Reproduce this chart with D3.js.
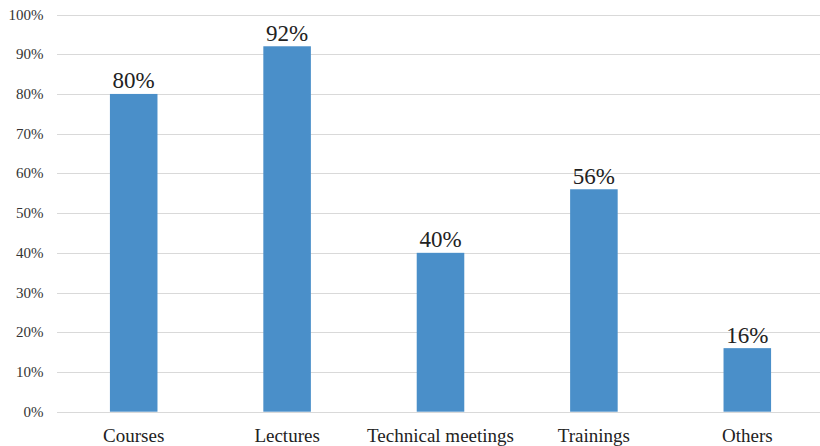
<!DOCTYPE html>
<html><head><meta charset="utf-8">
<script src="https://cdn.jsdelivr.net/npm/d3@7"></script>
<style>body{margin:0;background:#fff}svg{display:block}</style>
</head><body>
<script>
const categories = ["Courses","Lectures","Technical meetings","Trainings","Others"];
const values = [80,92,40,56,16];
const yTicks = [0,10,20,30,40,50,60,70,80,90,100];

const W=820,H=446;
const FONT='"Liberation Serif","Times New Roman",serif';
const svg=d3.select("body").append("svg").attr("width",W).attr("height",H);
const x=d3.scaleBand().domain(categories).range([57,824]).paddingInner(0.69).paddingOuter(0.345);
const y=d3.scaleLinear().domain([0,100]).range([411.7,14.5]);

svg.append("g").selectAll("line").data(yTicks).join("line")
  .attr("x1",57).attr("x2",W).attr("y1",d=>Math.round(y(d))+0.5).attr("y2",d=>Math.round(y(d))+0.5)
  .attr("stroke","#d9d9d9").attr("stroke-width",1);

svg.append("g").selectAll("text").data(yTicks).join("text")
  .attr("x",43.5).attr("y",d=>y(d)+5)
  .style("text-anchor","end").style("font-family",FONT).style("font-size","15px").style("fill","#333")
  .text(d=>d+"%");

svg.append("g").selectAll("rect").data(values).join("rect")
  .attr("x",(d,i)=>x(categories[i])).attr("width",x.bandwidth())
  .attr("y",d=>y(d)).attr("height",d=>y(0)-y(d)).attr("fill","#4a8fc9");

svg.append("g").selectAll("text").data(values).join("text")
  .attr("x",(d,i)=>x(categories[i])+x.bandwidth()/2).attr("y",d=>y(d)-5.5)
  .style("text-anchor","middle").style("font-family",FONT).style("font-size","23px").style("fill","#222")
  .text(d=>d+"%");

svg.append("g").selectAll("text").data(categories).join("text")
  .attr("x",d=>x(d)+x.bandwidth()/2).attr("y",441.5)
  .style("text-anchor","middle").style("font-family",FONT).style("font-size","19px").style("fill","#222")
  .text(d=>d);
</script>
</body></html>
